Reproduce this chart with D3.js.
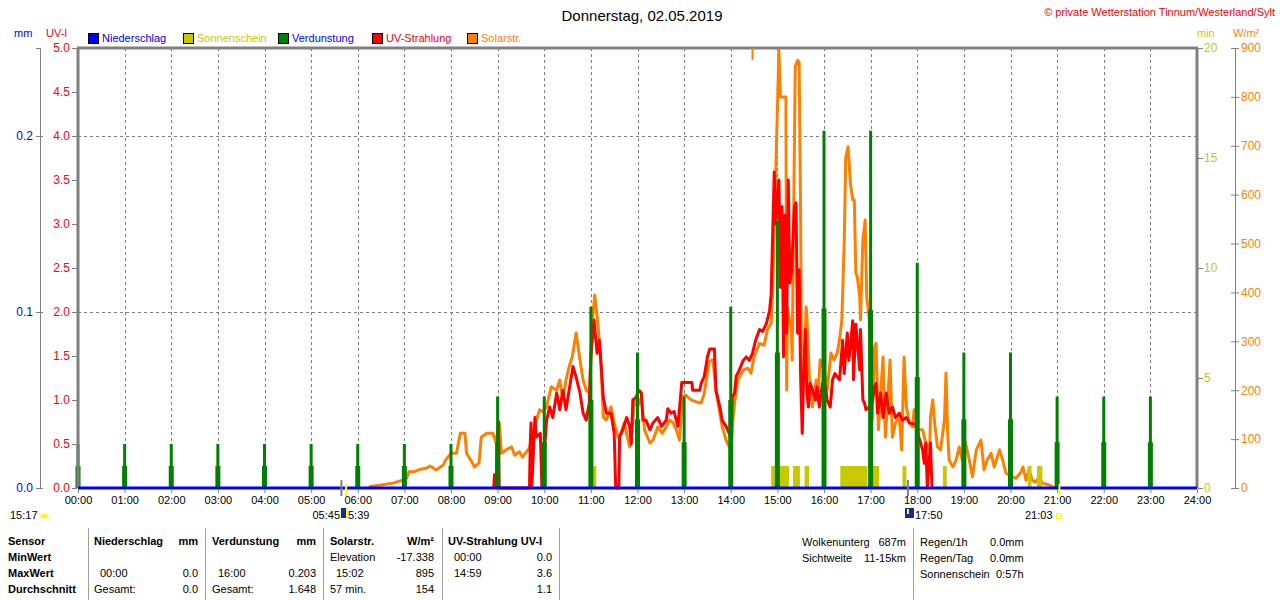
<!DOCTYPE html>
<html>
<head>
<meta charset="utf-8">
<script src="https://cdn.jsdelivr.net/npm/d3@7"></script>
<style>
body { margin: 0; background: #fff; }
text { font-family: "Liberation Sans", Arial, sans-serif; font-size: 11px; }
</style>
</head>
<body>
<div id="main"></div>
<script>
// chart values
var hourLabels = ["00:00","01:00","02:00","03:00","04:00","05:00","06:00","07:00","08:00","09:00","10:00","11:00","12:00",
    "13:00","14:00","15:00","16:00","17:00","18:00","19:00","20:00","21:00","22:00","23:00","24:00"];
var uvTicks = [0, 0.5, 1, 1.5, 2, 2.5, 3, 3.5, 4, 4.5, 5];
var mmTicks = [0, 0.1, 0.2];
var sunTicks = [0, 5, 10, 15, 20];
var solarTicks = [0, 100, 200, 300, 400, 500, 600, 700, 800, 900];

// Verdunstung per hour (mm): tall bar and the wider lower bar
var evapHours = [0,1,2,3,4,5,6,7,8,9,10,11,12,13,14,15,16,17,18,19,20,21,22,23];
var evapMain = [0.025,0.025,0.025,0.025,0.025,0.025,0.025,0.025,0.025,0.052,0.052,0.103,0.077,0.052,0.103,0.152,0.203,0.203,0.128,0.077,0.077,0.052,0.052,0.052];
var evapSub = [0.0125,0.0125,0.0125,0.0125,0.0125,0.0125,0.0125,0.0125,0.0125,0.026,0.026,0.05,0.039,0.026,0.05,0.077,0.102,0.101,0.063,0.039,0.039,0.026,0.026,0.026];

// Sonnenschein (min) intervals
var sunStart = ["11:02","14:52","15:20","15:35","16:21","17:03","17:41","18:33","20:22","20:34"];
var sunEnd   = ["11:07","15:15","15:29","15:41","16:56","17:11","17:46","18:38","20:27","20:41"];
var sunValues = [1,1,1,1,1,1,1,1,1,1];

// Solarstrahlung W/m²
var solarData = [
["06:15",0],["06:16",3],["06:30",6],["06:45",10],["06:58",16],["07:03",20],["07:06",33],["07:12",33],["07:20",38],["07:29",41],
["07:33",45],["07:41",37],["07:50",47],["07:53",57],["08:00",71],["08:07",71],["08:12",112],["08:18",112],["08:20",71],["08:27",53],
["08:30",43],["08:36",51],["08:39",104],["08:46",112],["08:54",112],["08:58",92],["09:02",135],["09:05",71],["09:11",78],["09:18",84],
["09:22",67],["09:28",74],["09:32",63],["09:41",82],["09:45",112],["09:50",139],["09:54",160],["09:58",156],["10:03",166],["10:09",207],
["10:16",200],["10:20",221],["10:24",180],["10:28",221],["10:32",248],["10:36",268],["10:41",317],["10:46",262],["10:50",221],["10:54",200],
["10:58",194],["11:02",344],["11:05",395],["11:09",337],["11:13",256],["11:16",145],["11:20",139],["11:26",166],["11:30",133],["11:35",104],
["11:39",112],["11:43",133],["11:47",104],["11:50",84],["11:52",98],["11:56",180],["12:00",166],["12:05",186],["12:09",119],["12:16",92],
["12:20",98],["12:26",125],["12:32",112],["12:37",125],["12:41",139],["12:46",133],["12:50",119],["12:54",98],["12:58",186],["13:02",190],
["13:09",180],["13:16",176],["13:22",174],["13:26",194],["13:32",258],["13:37",262],["13:41",200],["13:46",153],["13:49",125],["13:54",98],
["13:58",84],["14:00",78],["14:02",125],["14:05",174],["14:09",221],["14:16",241],["14:22",245],["14:26",235],["14:30",268],["14:37",296],
["14:43",292],["14:47",323],["14:52",337],["14:54",405],["14:58",650],["15:02",895],["15:04",800],["15:11",800],["15:12",200],["15:13",370],
["15:18",323],["15:19",262],["15:23",861],["15:26",875],["15:28",870],["15:30",542],["15:31",221],["15:34",230],["15:37",370],["15:38",350],
["15:41",235],["15:43",200],["15:45",166],["15:50",221],["15:52",180],["15:55",262],["16:00",241],["16:04",200],["16:09",276],["16:13",262],
["16:17",276],["16:20",303],["16:23",344],["16:26",501],["16:28",677],["16:31",698],["16:34",623],["16:37",589],["16:39",589],["16:41",440],
["16:43",430],["16:46",391],["16:47",344],["16:50",507],["16:53",548],["16:55",391],["16:58",350],["17:02",139],["17:05",288],["17:07",296],
["17:10",119],["17:13",194],["17:16",268],["17:19",104],["17:22",180],["17:25",262],["17:28",104],["17:32",133],["17:37",145],["17:40",78],
["17:43",268],["17:46",166],["17:50",133],["17:54",125],["17:56",160],["17:58",125],["18:02",119],["18:07",119],["18:11",92],["18:16",78],
["18:17",145],["18:20",180],["18:22",139],["18:26",84],["18:30",78],["18:35",139],["18:37",235],["18:39",119],["18:41",57],["18:46",43],
["18:50",57],["18:54",84],["18:58",57],["19:02",94],["19:07",57],["19:11",23],["19:16",78],["19:22",98],["19:26",37],["19:30",57],
["19:35",71],["19:39",43],["19:46",78],["19:50",57],["19:54",31],["20:01",23],["20:07",20],["20:13",31],["20:16",43],["20:20",16],
["20:24",37],["20:28",16],["20:32",12],["20:37",23],["20:41",10],["20:50",6],["20:54",2],["21:00",0]
];

// UV-Strahlung UV-I
var uvData = [
["08:55",0],["08:56",0.15],["08:58",0],["09:01",0.75],["09:02",0],["09:41",0],["09:42",0.51],["09:43",0.74],["09:44",0],["09:48",0.8],
["09:50",0.58],["09:55",0.62],["09:57",0],["10:03",0.77],["10:07",0.92],["10:11",0.8],["10:16",1.08],["10:20",0.89],["10:24",1.11],["10:28",0.89],
["10:32",1.11],["10:37",1.38],["10:41",1.26],["10:46",1.08],["10:50",0.85],["10:54",0.77],["10:58",0.97],["11:00",1.49],["11:04",1.91],["11:08",1.53],
["11:11",1.68],["11:16",1.03],["11:20",0.85],["11:26",0.85],["11:30",0.62],["11:32",0],["11:36",0],["11:37",0.58],["11:41",0.66],["11:46",0.8],
["11:50",0.7],["11:52",0.5],["11:54",1.0],["11:58",1.03],["12:02",1.11],["12:05",1.08],["12:07",0.77],["12:11",0.77],["12:16",0.66],["12:20",0.74],
["12:26",0.8],["12:31",0.7],["12:37",0.77],["12:39",0.9],["12:43",0.85],["12:47",0.87],["12:52",0.7],["12:57",1.2],["13:10",1.2],["13:11",1.11],
["13:20",1.11],["13:22",1.19],["13:26",1.27],["13:30",1.49],["13:33",1.58],["13:39",1.58],["13:41",1.11],["13:46",0.92],["13:49",0.77],["13:54",0.7],
["13:58",0.62],["14:00",0.58],["14:02",1.03],["14:05",1.08],["14:07",1.27],["14:11",1.34],["14:16",1.45],["14:20",1.49],["14:24",1.45],["14:28",1.53],
["14:32",1.68],["14:37",1.8],["14:41",1.78],["14:46",1.87],["14:50",2.02],["14:52",2.2],["14:56",3.59],["14:58",3.0],["15:00",3.3],["15:02",3.5],
["15:04",2.28],["15:06",3.2],["15:08",1.49],["15:10",3.1],["15:12",1.76],["15:14",3.5],["15:16",2.33],["15:18",2.44],["15:22",3.2],["15:24",3.24],
["15:26",1.76],["15:28",2.48],["15:30",1.23],["15:32",0.62],["15:34",1.34],["15:36",1.8],["15:38",1.08],["15:40",0.92],["15:42",1.19],["15:44",1.15],
["15:49",1.0],["15:51",1.15],["15:54",0.92],["15:58",1.19],["16:02",1.15],["16:04",1.0],["16:08",0.92],["16:11",1.23],["16:14",1.3],["16:20",1.23],
["16:24",1.68],["16:26",1.3],["16:30",1.76],["16:32",1.45],["16:37",1.9],["16:38",1.23],["16:41",1.86],["16:46",1.34],["16:47",1.8],["16:50",1.0],
["16:52",0.97],["16:54",0.89],["16:58",0.92],["17:02",0.97],["17:05",1.15],["17:07",1.19],["17:09",0.85],["17:13",1.08],["17:16",0.8],["17:20",1.08],
["17:24",0.85],["17:28",0.92],["17:32",0.8],["17:37",0.85],["17:41",0.77],["17:46",0.8],["17:50",0.74],["17:58",0.72],["18:02",0.58],["18:07",0.43],
["18:09",0.28],["18:11",0.51],["18:13",0],["18:17",0.51],["18:19",0]
];

var legendNames = ["Niederschlag", "Sonnenschein", "Verdunstung", "UV-Strahlung", "Solarstr."];
var legendBox = ["#0000ff", "#c8c800", "#008000", "#ff0000", "#ff8000"];
var legendText = ["#0000ff", "#c8c800", "#0000ff", "#ff0000", "#ff8000"];
var legendX = [88, 183, 278, 372, 467];

// markers below the time axis
var markTimes = ["05:39", "05:45", "17:48", "21:03"];
var markColors = ["#808080", "#ffff00", "#808080", "#ffff00"];

// table
var tableCols = [8, 94, 212, 330, 448];
var tableRows = [
    ["Sensor", "Niederschlag", "Verdunstung", "Solarstr.", "UV-Strahlung UV-I"],
    ["MinWert", "", "", "Elevation", "00:00"],
    ["MaxWert", "00:00", "16:00", "15:02", "14:59"],
    ["Durchschnitt", "Gesamt:", "Gesamt:", "57 min.", ""]
];
var tableUnits = ["", "mm", "mm", "W/m²", ""];
var tableValues = [
    ["", "", "", "", ""],
    ["", "", "", "-17.338", "0.0"],
    ["", "0.0", "0.203", "895", "3.6"],
    ["", "0.0", "1.648", "154", "1.1"]
];
var infoLeft = [["Wolkenunterg", "687m"], ["Sichtweite", "11-15km"]];
var infoRight = [["Regen/1h", "0.0mm"], ["Regen/Tag", "0.0mm"], ["Sonnenschein", "0:57h"]];

var toMin = function (s) { var p = s.split(":"); return +p[0] * 60 + +p[1]; };

var plotL = 78, plotR = 1197, plotT = 48, plotB = 488;
var grey = "#808080";

var svg = d3.select("#main").append("svg").attr("width", 1280).attr("height", 600);

var x = d3.scaleLinear().domain([0, 1440]).range([plotL, plotR]);
var yUV = d3.scaleLinear().domain([0, 5]).range([plotB, plotT]);
var yMM = d3.scaleLinear().domain([0, 0.25]).range([plotB, plotT]);
var ySun = d3.scaleLinear().domain([0, 20]).range([plotB, plotT]);
var ySol = d3.scaleLinear().domain([0, 900]).range([plotB, plotT]);

// title
svg.append("text").attr("x", 642).attr("y", 21).attr("text-anchor", "middle")
    .style("font-size", "15px").text("Donnerstag, 02.05.2019");
svg.append("text").attr("x", 1275).attr("y", 16).attr("text-anchor", "end")
    .attr("fill", "#ff0000").text("© private Wetterstation Tinnum/Westerland/Sylt");

// unit labels
svg.append("text").attr("x", 14).attr("y", 37).attr("fill", "#0000ff").text("mm");
svg.append("text").attr("x", 46).attr("y", 37).attr("fill", "#ff0000").text("UV-I");
svg.append("text").attr("x", 1197).attr("y", 37).attr("fill", "#c8c800").text("min");
svg.append("text").attr("x", 1233).attr("y", 37).attr("fill", "#ff8000").text("W/m²");

// legend
var lg = svg.append("g").selectAll("g").data(legendNames).enter().append("g")
    .attr("transform", function (d, i) { return "translate(" + legendX[i] + ",33)"; });
lg.append("rect").attr("x", 0.5).attr("y", 0.5).attr("width", 10).attr("height", 10)
    .attr("fill", function (d, i) { return legendBox[i]; }).attr("stroke", "#000");
lg.append("text").attr("x", 14).attr("y", 9).attr("fill", function (d, i) { return legendText[i]; })
    .text(function (d) { return d; });

// grid
var grid = svg.append("g").attr("stroke", grey).attr("stroke-dasharray", "3,3");
grid.selectAll("line.v").data(d3.range(1, 24)).enter().append("line")
    .attr("x1", function (d) { return Math.round(x(d * 60)) + 0.5; })
    .attr("x2", function (d) { return Math.round(x(d * 60)) + 0.5; })
    .attr("y1", plotT).attr("y2", plotB);
grid.selectAll("line.h").data([0.1, 0.2]).enter().append("line")
    .attr("x1", plotL).attr("x2", plotR)
    .attr("y1", function (d) { return Math.round(yMM(d)) + 0.5; })
    .attr("y2", function (d) { return Math.round(yMM(d)) + 0.5; });

// solar line
var solLine = d3.line().x(function (d) { return x(toMin(d[0])); }).y(function (d) { return ySol(d[1]); });
svg.append("path").datum(solarData).attr("d", solLine).attr("fill", "none")
    .attr("stroke", "#ff8000").attr("stroke-width", 3).attr("stroke-linejoin", "round");

// UV line
var uvLine = d3.line().x(function (d) { return x(toMin(d[0])); }).y(function (d) { return yUV(d[1]); });
svg.append("path").datum(uvData).attr("d", uvLine).attr("fill", "none")
    .attr("stroke", "#ff0000").attr("stroke-width", 3).attr("stroke-linejoin", "round");

// sunshine bars
svg.append("g").selectAll("rect").data(sunStart).enter().append("rect")
    .attr("x", function (d) { return x(toMin(d)); })
    .attr("width", function (d, i) { return x(toMin(sunEnd[i])) - x(toMin(d)); })
    .attr("y", function (d, i) { return ySun(sunValues[i]); })
    .attr("height", function (d, i) { return plotB - ySun(sunValues[i]); })
    .attr("fill", "#c8c800");

// evaporation bars
var ev = svg.append("g").attr("fill", "#008000");
ev.selectAll("rect.sub").data(evapHours).enter().append("rect")
    .attr("x", function (d) { return x(d * 60) - 2.5; }).attr("width", 5)
    .attr("y", function (d, i) { return yMM(evapSub[i]); })
    .attr("height", function (d, i) { return plotB - yMM(evapSub[i]); });
ev.selectAll("rect.main").data(evapHours).enter().append("rect")
    .attr("x", function (d) { return x(d * 60) - 1.5; }).attr("width", 3)
    .attr("y", function (d, i) { return yMM(evapMain[i]); })
    .attr("height", function (d, i) { return plotB - yMM(evapMain[i]); });

// frame
svg.append("line").attr("x1", plotL - 1).attr("x2", plotR + 1).attr("y1", plotT).attr("y2", plotT)
    .attr("stroke", grey).attr("stroke-width", 3);
svg.append("line").attr("x1", plotL).attr("x2", plotL).attr("y1", plotT).attr("y2", plotB)
    .attr("stroke", grey).attr("stroke-width", 3);
svg.append("line").attr("x1", plotR).attr("x2", plotR).attr("y1", plotT).attr("y2", plotB)
    .attr("stroke", grey).attr("stroke-width", 3);
// Niederschlag = 0 along the bottom
svg.append("line").attr("x1", plotL).attr("x2", plotR).attr("y1", plotB).attr("y2", plotB)
    .attr("stroke", "#0000ff").attr("stroke-width", 3);

// left axes
var uvAxis = svg.append("g").attr("transform", "translate(" + (plotL - 1) + ",0)")
    .call(d3.axisLeft(yUV).tickValues(uvTicks).tickFormat(d3.format(".1f")).tickSize(5).tickPadding(2));
uvAxis.select(".domain").remove();
uvAxis.selectAll("line").attr("stroke", grey);
uvAxis.selectAll("text").attr("fill", "#ff0000").style("font-size", "12px");

var mmAxis = svg.append("g").attr("transform", "translate(40,0)")
    .call(d3.axisLeft(yMM).tickValues(mmTicks).tickFormat(d3.format(".1f")).tickSize(4).tickPadding(3));
mmAxis.select(".domain").attr("stroke", grey);
mmAxis.selectAll("line").attr("stroke", grey).attr("x2", 3).attr("x1", -4);
mmAxis.selectAll("text").attr("fill", "#0000ff").style("font-size", "12px");

// right axes
var sunAxis = svg.append("g").attr("transform", "translate(" + (plotR + 1) + ",0)")
    .call(d3.axisRight(ySun).tickValues(sunTicks).tickSize(5).tickPadding(1));
sunAxis.select(".domain").remove();
sunAxis.selectAll("line").attr("stroke", grey);
sunAxis.selectAll("text").attr("fill", "#c8c800").style("font-size", "12px");

var solAxis = svg.append("g").attr("transform", "translate(1235,0)")
    .call(d3.axisRight(ySol).tickValues(solarTicks).tickSize(4).tickPadding(2));
solAxis.select(".domain").attr("stroke", grey);
solAxis.selectAll("line").attr("stroke", grey).attr("x1", -4);
solAxis.selectAll("text").attr("fill", "#ff8000").style("font-size", "12px");

// time axis
var xAxis = svg.append("g").attr("transform", "translate(0," + (plotB + 1) + ")")
    .call(d3.axisBottom(x).tickValues(d3.range(0, 1441, 60))
        .tickFormat(function (d, i) { return hourLabels[i]; }).tickSize(4).tickPadding(3));
xAxis.select(".domain").remove();
xAxis.selectAll("line").attr("stroke", grey);
xAxis.selectAll("text").attr("fill", "#000").style("font-size", "11px");

// sun / moon markers
svg.append("g").selectAll("rect").data(markTimes).enter().append("rect")
    .attr("x", function (d) { return x(toMin(d)) - 1; }).attr("width", 2)
    .attr("y", function (d, i) { return i % 2 ? plotB - 4 : plotB - 8; })
    .attr("height", function (d, i) { return i % 2 ? 12 : 16; })
    .attr("fill", function (d, i) { return markColors[i]; });
svg.append("rect").attr("x", x(toMin("14:28")) - 1).attr("width", 2).attr("y", plotT)
    .attr("height", 12).attr("fill", "#ff8000");

svg.append("text").attr("x", 10).attr("y", 519).text("15:17");
svg.append("path").attr("d", "M40,518 A4.5,4.5 0 0 1 49,518 Z").attr("fill", "#ffff00");
svg.append("text").attr("x", 340).attr("y", 519).attr("text-anchor", "end").text("05:45");
svg.append("rect").attr("x", 341).attr("y", 508).attr("width", 5).attr("height", 10).attr("fill", "#1a2a8c");
svg.append("rect").attr("x", 346).attr("y", 509).attr("width", 2).attr("height", 9).attr("fill", "#ffff00");
svg.append("text").attr("x", 348).attr("y", 519).text("5:39");
svg.append("rect").attr("x", 905).attr("y", 508).attr("width", 9).attr("height", 10).attr("fill", "#1a2a8c");
svg.append("rect").attr("x", 907).attr("y", 509).attr("width", 2).attr("height", 5).attr("fill", "#ffff00");
svg.append("text").attr("x", 915).attr("y", 519).text("17:50");
svg.append("text").attr("x", 1025).attr("y", 519).text("21:03");
svg.append("rect").attr("x", 1056.5).attr("y", 513.5).attr("width", 4).attr("height", 5)
    .attr("fill", "none").attr("stroke", "#ffff00");

// table separators
var seps = [88, 205, 323, 442, 559, 913];
svg.append("g").selectAll("line").data(seps).enter().append("line")
    .attr("x1", function (d) { return d + 0.5; }).attr("x2", function (d) { return d + 0.5; })
    .attr("y1", 528).attr("y2", 600).attr("stroke", "#a0a0a0");

var rowY = [545, 561, 577, 593];
var unitX = [0, 198, 316, 434, 552];
var tb = svg.append("g");
tableRows.forEach(function (row, r) {
    row.forEach(function (cell, c) {
        var bold = r === 0 || c === 0;
        var xx = tableCols[c] + ((r === 2 && c > 0) ? 6 : 0) + ((r === 1 && c === 4) ? 6 : 0);
        tb.append("text").attr("x", xx).attr("y", rowY[r])
            .style("font-weight", bold ? "bold" : "normal").text(cell);
    });
    tableValues[r].forEach(function (v, c) {
        if (v) tb.append("text").attr("x", unitX[c]).attr("y", rowY[r]).attr("text-anchor", "end").text(v);
    });
});
tableUnits.forEach(function (u, c) {
    if (u) tb.append("text").attr("x", unitX[c]).attr("y", rowY[0]).attr("text-anchor", "end")
        .style("font-weight", "bold").text(u);
});

infoLeft.forEach(function (d, i) {
    tb.append("text").attr("x", 802).attr("y", 546 + i * 16).text(d[0]);
    tb.append("text").attr("x", 906).attr("y", 546 + i * 16).attr("text-anchor", "end").text(d[1]);
});
infoRight.forEach(function (d, i) {
    tb.append("text").attr("x", 920).attr("y", 546 + i * 16).text(d[0]);
    tb.append("text").attr("x", i === 2 ? 996 : 990).attr("y", 546 + i * 16).text(d[1]);
});
</script>
</body>
</html>
